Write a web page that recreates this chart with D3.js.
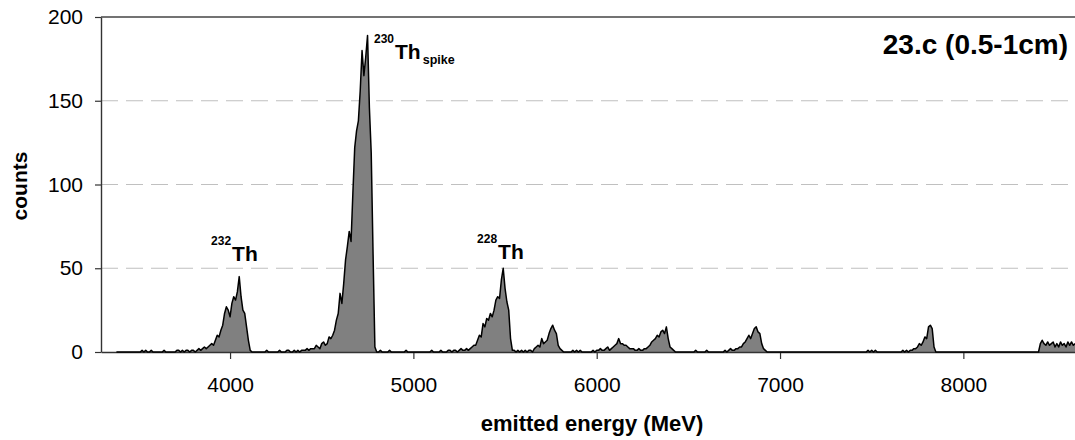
<!DOCTYPE html>
<html>
<head>
<meta charset="utf-8">
<script src="https://cdn.jsdelivr.net/npm/d3@7"></script>
<style>
  html, body { margin: 0; padding: 0; background: #fff; }
  svg { display: block; font-family: "Liberation Sans", Arial, sans-serif; }
</style>
</head>
<body>
<svg id="chart" width="1075" height="440"></svg>
<script>
// ---- data (counts per 10 MeV bin, by region; first value at the region's start energy) ----
const binWidth = 10;
const regionStarts = [3380, 3800, 4130, 4400, 4810, 5200, 5610, 5830, 6000, 6450, 6700, 6950, 7700, 7870, 8420];
const lowTail = [0,0,0,0,0,0,0,0,0,0, 0,0,0,0,1,0,1,0,0,1, 0,0,0,0,0,0,1,0,0,0, 0,0,0,1,1,0,1,0,1,1, 0,1];
const th232Peak = [1,0,1,2,1,2,3,2,3,4, 5,4,7,10,9,13,16,23,27,25, 21,29,33,31,36,45,33,25,23,15, 7,1,0];
const gap1 = [0,0,0,0,0,0,0,1,0,0, 0,0,0,0,1,0,0,0,1,1, 0,0,1,0,1,0,1];
const th230Peak = [1,1,2,1,2,2,2,4,3,2, 5,6,4,5,9,8,10,13,19,23, 35,29,41,55,63,72,66,95,122,132, 138,156,180,165,176,189,146,119,59,3, 0];
const gap2 = [0,1,0,0,0,0,1,0,0,0, 0,0,0,0,0,1,0,0,0,0, 0,0,0,0,0,0,0,0,0,1, 0,0,0,0,1,0,0,0,1];
const th228Peak = [1,0,1,1,0,1,2,1,1,2, 1,2,3,4,4,7,10,9,17,15, 20,19,23,21,25,31,33,32,43,50, 38,30,25,8,1,1,0,1,0,1, 0];
const peak5750 = [1,0,1,1,0,2,3,4,3,8, 5,6,7,11,14,16,13,11,4,2, 1,0];
const gap3 = [0,0,0,0,1,0,1,0,1,0, 0,0,0,0,0,1,0];
const peaks6100_6380 = [1,1,2,1,1,2,3,1,2,3, 4,5,8,5,5,4,4,3,2,2, 2,1,1,2,1,1,2,2,3,4, 6,7,8,10,9,12,13,11,15,8, 3,2,1,0,0];
const gap4 = [0,0,0,0,0,0,0,0,0,1, 0,0,0,0,0,1,0,0,0,0, 0,0,0,0,0];
const peak6870 = [1,0,1,2,1,1,2,2,3,3, 5,6,8,10,8,11,14,15,12,11, 5,2,1,0,0];
const gap5 = [0,0,0,0,0,0,0,0,0,0, 0,0,0,0,0,0,0,0,0,0, 0,0,0,0,0,0,0,0,0,0, 0,0,0,0,0,0,0,0,0,0, 0,0,0,0,0,0,0,0,0,0, 0,0,0,1,0,1,0,1,0,0, 0,0,0,0,0,0,0,0,0,0, 0,0,1,0,1];
const peak7820 = [0,1,1,2,2,3,5,4,6,9, 8,15,16,14,3,0,0];
const gap6 = [0,0,0,0,0,0,0,0,0,0, 0,0,0,0,0,0,0,0,0,0, 0,0,0,0,0,0,0,0,0,0, 0,0,0,0,0,0,0,0,0,0, 0,0,0,0,0,0,0,0,0,0, 0,0,0,0,0];
const highTail = [5,7,5,4,6,4,5,6,3,5, 3,6,4,5,3,6,4,6,4,5];
const regionCounts = [lowTail, th232Peak, gap1, th230Peak, gap2, th228Peak, peak5750, gap3,
                      peaks6100_6380, gap4, peak6870, gap5, peak7820, gap6, highTail];

const xTicks = [4000, 5000, 6000, 7000, 8000];
const yTicks = [0, 50, 100, 150, 200];
const xDomain = [3296, 8609];
const yDomain = [0, 200];

const isotopeNumbers = ["232", "230", "228"];
const isotopeLabelEnergy = [4011, 4900, 5462];
const isotopeLabelCount = [54.3, 175, 55.5];
const isotopeSubscripts = ["", "spike", ""];

const chartTitle = "23.c (0.5-1cm)";
const xTitle = "emitted energy (MeV)";
const yTitle = "counts";

// ---- build the spectrum ----
const spectrum = [];
regionCounts.forEach((arr, r) => {
  arr.forEach((c, i) => spectrum.push({ e: regionStarts[r] + i * binWidth, c: c }));
});

// ---- layout ----
const svg = d3.select("#chart");
const plotLeft = 101, plotRight = 1075, plotTop = 17, plotBottom = 352;
const x = d3.scaleLinear().domain(xDomain).range([plotLeft, plotRight]);
const y = d3.scaleLinear().domain(yDomain).range([plotBottom, plotTop]);

// gridlines
svg.append("g").selectAll("line")
  .data(yTicks.filter(v => v > 0 && v < 200))
  .join("line")
  .attr("x1", plotLeft).attr("x2", plotRight)
  .attr("y1", d => y(d)).attr("y2", d => y(d))
  .attr("stroke", "#c0c0c0").attr("stroke-width", 1.2)
  .attr("stroke-dasharray", "17,8");

// top border
svg.append("line")
  .attr("x1", plotLeft).attr("x2", plotRight).attr("y1", y(200)).attr("y2", y(200))
  .attr("stroke", "#444").attr("stroke-width", 1.3);

// area + line
const area = d3.area().x(d => x(d.e)).y0(y(0)).y1(d => y(d.c));
const line = d3.line().x(d => x(d.e)).y(d => y(d.c));

svg.append("path").datum(spectrum)
  .attr("d", area).attr("fill", "#808080");

// axes
const yAxis = svg.append("g").attr("transform", `translate(${plotLeft},0)`)
  .call(d3.axisLeft(y).tickValues(yTicks).tickSize(6).tickPadding(12).tickSizeOuter(0));
const xAxis = svg.append("g").attr("transform", `translate(0,${plotBottom})`)
  .call(d3.axisBottom(x).tickValues(xTicks).tickSize(7).tickPadding(18).tickSizeOuter(0).tickFormat(d3.format("d")));

[yAxis, xAxis].forEach(g => {
  g.select(".domain").attr("stroke", "#333").attr("stroke-width", 1.4);
  g.selectAll(".tick line").attr("stroke", "#333").attr("stroke-width", 1.2);
  g.selectAll(".tick text").attr("fill", "#000")
    .style("font-family", "'Liberation Sans', Arial, sans-serif").style("font-size", "21px");
});

svg.append("path").datum(spectrum)
  .attr("d", line).attr("fill", "none")
  .attr("stroke", "#000").attr("stroke-width", 1.5).attr("stroke-linejoin", "round");

// isotope labels
isotopeNumbers.forEach((num, i) => {
  const px = x(isotopeLabelEnergy[i]);
  const py = y(isotopeLabelCount[i]);
  svg.append("text").attr("x", px - 1).attr("y", py - 16)
    .attr("text-anchor", "end").attr("font-weight", "bold").attr("font-size", 12)
    .text(num);
  const t = svg.append("text").attr("x", px).attr("y", py)
    .attr("font-weight", "bold").attr("font-size", 21).text("Th");
  if (isotopeSubscripts[i]) {
    t.append("tspan").attr("dx", 2).attr("dy", 5).attr("font-size", 12.5).text(isotopeSubscripts[i]);
  }
});

// title
svg.append("text").attr("x", 1068).attr("y", 54)
  .attr("text-anchor", "end").attr("font-weight", "bold").attr("font-size", 28)
  .text(chartTitle);

// axis titles
svg.append("text").attr("x", 592).attr("y", 431)
  .attr("text-anchor", "middle").attr("font-weight", "bold").attr("font-size", 22)
  .text(xTitle);
svg.append("text").attr("transform", "translate(27,186) rotate(-90)")
  .attr("text-anchor", "middle").attr("font-weight", "bold").attr("font-size", 21)
  .text(yTitle);
</script>
</body>
</html>
